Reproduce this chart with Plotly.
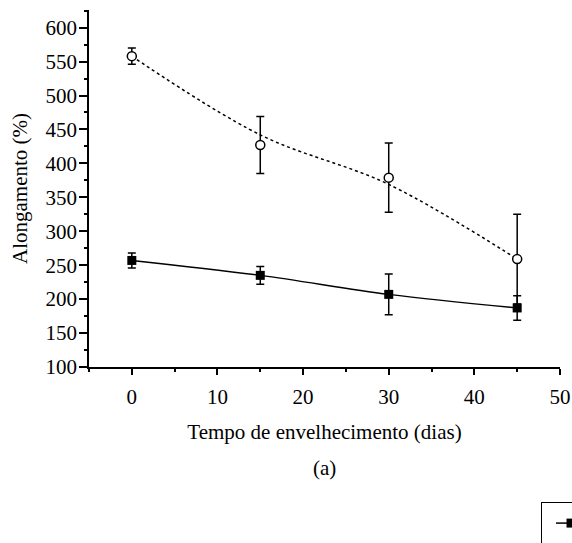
import plotly.graph_objects as go

# Data
days = [0, 15, 30, 45]
closed_mean = [257, 235, 207, 187]
closed_err = [11, 13, 30, 18]
open_mean = [558, 427, 379, 259]
open_err = [12, 42, 51, 66]
# trend curve of the open-circle series
open_trend = [558, 442, 369, 259]

x_title = "Tempo de envelhecimento (dias)"
y_title = "Alongamento (%)"
panel_label = "(a)"
names = ["Amostra A", "Amostra B"]

FONT = "Liberation Serif, Times New Roman, serif"
FS = 21

fig = go.Figure()

fig.add_trace(go.Scatter(
    x=days, y=closed_mean, name=names[0],
    mode="lines+markers",
    line=dict(color="black", width=1.5, shape="spline", smoothing=1.0),
    marker=dict(symbol="square", size=9, color="black"),
    error_y=dict(type="data", array=closed_err, visible=True,
                 color="black", thickness=1.5, width=4),
))

fig.add_trace(go.Scatter(
    x=days, y=open_trend, mode="lines", showlegend=False, hoverinfo="skip",
    line=dict(color="black", width=1.5, dash="dot", shape="spline", smoothing=1.0),
))

fig.add_trace(go.Scatter(
    x=days, y=open_mean, name=names[1],
    mode="markers",
    marker=dict(symbol="circle", size=9, color="white",
                line=dict(color="black", width=1.5)),
    error_y=dict(type="data", array=open_err, visible=True,
                 color="black", thickness=1.5, width=4),
))

axis_common = dict(
    showline=True, linecolor="black", linewidth=1.5,
    showgrid=False, zeroline=False, ticks="outside", tickcolor="black",
    tickwidth=1.5,
    tickfont=dict(family=FONT, size=FS, color="black"),
)

fig.update_xaxes(
    range=[-5, 50], tick0=0, dtick=10, ticklen=6,
    minor=dict(dtick=5, tick0=0, ticklen=3, ticks="outside", tickcolor="black", tickwidth=1.5),
    ticklabelstandoff=4,
    title=dict(text=x_title, font=dict(family=FONT, size=FS, color="black"), standoff=16),
    **axis_common,
)
fig.update_yaxes(
    range=[100, 626], tick0=0, dtick=50, ticklen=8,
    minor=dict(dtick=25, tick0=0, ticklen=3, ticks="outside", tickcolor="black", tickwidth=1.5),
    ticklabelstandoff=-2,
    title=dict(text=y_title, font=dict(family=FONT, size=FS, color="black"), standoff=12),
    **axis_common,
)

fig.add_annotation(
    text=panel_label, xref="paper", yref="paper", x=0.5, y=-0.283,
    xanchor="center", yanchor="middle", showarrow=False,
    font=dict(family=FONT, size=FS, color="black"),
)

fig.update_layout(
    width=572, height=543,
    margin=dict(l=89, r=12, t=10, b=176, autoexpand=False),
    paper_bgcolor="white", plot_bgcolor="white",
    showlegend=True,
    legend=dict(x=0.9597, y=-0.378, xanchor="left", yanchor="top",
                bordercolor="black", borderwidth=1, bgcolor="white",
                indentation=9,
                font=dict(family=FONT, size=FS, color="black")),
)

# remove the page's default body margin so the figure fills the window exactly
fig.write_html(
    "out.html",
    config={"displayModeBar": False},
    post_script="document.body.style.margin='0';document.body.style.overflow='hidden';",
)
